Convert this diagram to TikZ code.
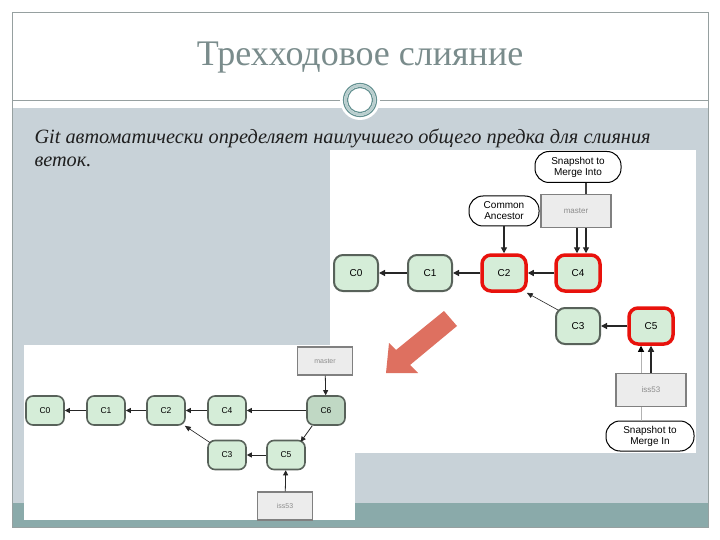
\documentclass[tikz,border=0pt]{standalone}
\usepackage{fontspec}
\setmainfont{Liberation Serif}
\newfontfamily\diagfont{Liberation Sans}
\usetikzlibrary{arrows.meta,calc}
\definecolor{framegray}{RGB}{150,160,160}
\definecolor{bodygray}{RGB}{200,210,216}
\definecolor{bandteal}{RGB}{138,170,170}
\definecolor{titlecol}{RGB}{122,140,140}
\definecolor{ornament}{RGB}{100,145,145}
\definecolor{cgreen}{RGB}{213,237,216}
\definecolor{cgreendark}{RGB}{192,216,196}
\definecolor{cborder}{RGB}{88,98,90}
\definecolor{cred}{RGB}{232,18,12}
\definecolor{refbox}{RGB}{236,236,236}
\definecolor{refborder}{RGB}{128,128,128}
\definecolor{salmon}{RGB}{222,112,96}
\tikzset{
  commit/.style={rectangle, rounded corners=9pt, draw=cborder, line width=2pt, fill=cgreen,
    minimum width=44pt, minimum height=36pt, inner sep=0pt, font=\diagfont\fontsize{10}{12}\selectfont},
  redc/.style={commit, draw=cred, line width=3.5pt},
  scommit/.style={commit, rounded corners=7pt, line width=1.6pt, minimum width=38pt, minimum height=29pt,
    font=\diagfont\fontsize{8.5}{10}\selectfont},
  note/.style={rectangle, rounded corners=14pt, draw=black, line width=1pt, fill=white, align=center,
    font=\diagfont\fontsize{10}{11}\selectfont, minimum width=86pt, minimum height=31pt, inner sep=1pt},
  refbr/.style={rectangle, draw=refborder, line width=1.5pt, fill=refbox, text=black!45,
    font=\diagfont\fontsize{8}{10}\selectfont, minimum width=70pt, minimum height=33pt},
  srefbr/.style={refbr, line width=1.2pt, minimum width=55pt, minimum height=28pt, font=\diagfont\fontsize{7}{9}\selectfont},
  arr/.style={-{Triangle[length=6pt,width=6pt]}, line width=1.3pt, draw=black!85},
  tarr/.style={-{Triangle[length=6pt,width=5pt]}, line width=0.6pt, draw=black!85},
  sarr/.style={-{Triangle[length=5pt,width=5pt]}, line width=0.8pt, draw=black!85},
  garr/.style={-{Triangle[length=6pt,width=6pt,color=black]}, line width=1pt, draw=black!30},
}
\begin{document}
\begin{tikzpicture}[x=1pt,y=-1pt]
\useasboundingbox (0,0) rectangle (720,540);
\fill[white] (0,0) rectangle (720,540);
% slide background
\fill[bodygray] (12,108) rectangle (708,503);
\fill[bandteal] (12,503) rectangle (708,527);
\draw[framegray, line width=0.8pt] (12,12) rectangle (708,527);
\draw[framegray, line width=0.8pt] (12,100) -- (708,100);
% ornament
\fill[white] (360,100) circle (20);
\draw[ornament, line width=1.2pt] (360,100) circle (16.5);
\draw[ornament, line width=1.2pt] (360,100) circle (12.5);
\draw[ornament!45, line width=2.5pt] (360,100) circle (14.5);
% title and text
\node[text=titlecol, font=\fontsize{36}{42}\selectfont] (title) at (360,58) {Трехходовое слияние};
\node[anchor=base west, text=black!88, font=\itshape\fontsize{20.3}{24}\selectfont] (txt1) at (31,144)
  {Git автоматически определяет наилучшего общего предка для слияния};
\node[anchor=base west, text=black!88, font=\itshape\fontsize{20.3}{24}\selectfont] (txt2) at (31,167) {веток.};
% ---------- top-right picture ----------
\fill[white] (330,150) rectangle (696,453);
\coordinate (x586) at (586,0);
\coordinate (x577) at (577,0);
\coordinate (x641) at (641,0);
\coordinate (x651) at (651,0);
\node[note] (smi) at (578,167) {Snapshot to\\Merge Into};
\node[note, minimum width=70pt, minimum height=30pt] (ca) at (504,211) {Common\\Ancestor};
\node[refbr] (tmaster) at (576,211) {master};
\node[commit] (tc0) at (356,273) {C0};
\node[commit] (tc1) at (430,273) {C1};
\node[redc] (tc2) at (504,273) {C2};
\node[redc] (tc4) at (578,273) {C4};
\node[commit] (tc3) at (578,326) {C3};
\node[redc] (tc5) at (651,326) {C5};
\node[refbr] (tiss) at (651,390) {iss53};
\node[note, minimum width=88pt, minimum height=30pt] (smin) at (650,436) {Snapshot to\\Merge In};
\draw[arr] (tc1) -- (tc0);
\draw[arr] (tc2) -- (tc1);
\draw[arr] (tc4) -- (tc2);
\draw[arr] (tc5) -- (tc3);
\draw[tarr] ($(tc3.north west)+(3,3)$) -- ($(tc2.south east)+(-1,0)$);
\draw[arr] (ca) -- (tc2);
\draw[line width=1.2pt, black!75] (smi.south -| x586) -- (tmaster.north -| x586);
\draw[arr] (tmaster.south -| x586) -- (tc4.north -| x586);
\draw[arr] (tmaster.south -| x577) -- (tc4.north -| x577);
\draw[line width=1pt, black!30] (smin.north -| x641) -- (tiss.south -| x641);
\draw[garr] (tiss.north -| x641) -- (tc5.south -| x641);
\draw[arr] (tiss.north -| x651) -- (tc5.south -| x651);
% big arrow
\fill[salmon] (444,311) -- (457,326) -- (410,365) -- (418,373) -- (386,373) -- (389,343) -- (396,350) -- cycle;
% ---------- bottom-left picture ----------
\fill[white] (24,345) rectangle (355,520);
\node[srefbr] (bmaster) at (325,361) {master};
\node[scommit] (bc0) at (45,410.5) {C0};
\node[scommit] (bc1) at (106,410.5) {C1};
\node[scommit] (bc2) at (166,410.5) {C2};
\node[scommit] (bc4) at (227,410.5) {C4};
\node[scommit, fill=cgreendark] (bc6) at (326,410.5) {C6};
\node[scommit] (bc3) at (227,455) {C3};
\node[scommit] (bc5) at (286,455) {C5};
\node[srefbr] (biss) at (285,506) {iss53};
\draw[sarr] (bc1) -- (bc0);
\draw[sarr] (bc2) -- (bc1);
\draw[sarr] (bc4) -- (bc2);
\draw[sarr] (bc6) -- (bc4);
\draw[sarr] (bc5) -- (bc3);
\draw[tarr] ($(bc3.north west)+(3,3)$) -- ($(bc2.south east)+(-1,0)$);
\draw[sarr] ($(bc6.south west)+(6,0)$) -- ($(bc5.north east)+(-5,2)$);
\draw[sarr] (bmaster) -- (bc6);
\draw[sarr] (biss) -- (bc5);
\end{tikzpicture}
\end{document}
